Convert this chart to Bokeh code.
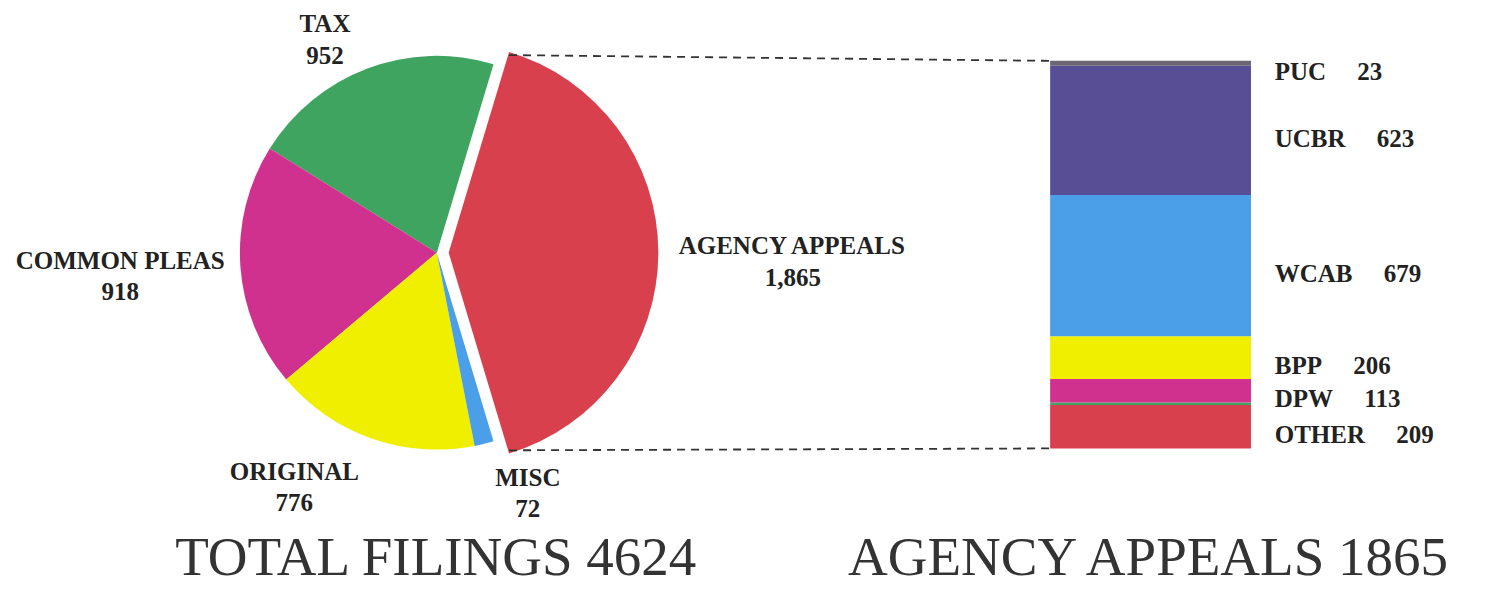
import math
from bokeh.plotting import figure
from bokeh.models import ColumnDataSource, Range1d
from bokeh.core.properties import value
from bokeh.embed import file_html
from bokeh.resources import INLINE

# ---------------- data ----------------
pie_labels = ["AGENCY APPEALS", "TAX", "COMMON PLEAS", "ORIGINAL", "MISC"]
pie_values = [1865, 952, 918, 776, 72]
pie_colors = ["#d8404e", "#3ea45f", "#d1318e", "#f1ef00", "#4b9ee8"]

bar_labels = ["OTHER", "", "DPW", "BPP", "WCAB", "UCBR", "PUC"]
bar_values = [209, 12, 113, 206, 679, 623, 23]
bar_colors = ["#d8404e", "#3ea45f", "#d1318e", "#f1ef00", "#4b9ee8", "#574e95", "#6b6672"]

title_left = "TOTAL FILINGS 4624"
title_right = "AGENCY APPEALS 1865"

# ---------------- layout (reference pixel coords, y up) ----------------
W, H = 1479, 593          # figure size that fits the window
RW, RH = 1495, 609        # coordinate space of the layout
def Y(ref_y):
    return RH - ref_y

pie_cx, pie_cy, pie_r = 441, Y(259), 199
explode_dx = [12, 0, 0, 0, 0]
radius_scale = [1.065, 1, 1, 1, 1]

label_pos = [(801, 252), (328, 24), (121, 267), (297, 484), (533, 490)]
value_gap = 32

bar_x0, bar_x1 = 1061, 1264
bar_bot, bar_top = Y(460), Y(62)
bar_label_x = 1288

FONT = "Liberation Serif"
TXT = "#222222"

p = figure(width=W, height=H, x_range=Range1d(0, RW), y_range=Range1d(0, RH),
           x_axis_type=None, y_axis_type=None, toolbar_location=None,
           output_backend="svg", min_border=0)
p.outline_line_color = None
p.grid.visible = False
p.background_fill_color = "white"
p.border_fill_color = "white"

# ---------------- pie ----------------
total = sum(pie_values)
starts, ends = [], []
a = -pie_values[0] / total * math.pi
for v in pie_values:
    starts.append(a)
    a += v / total * 2 * math.pi
    ends.append(a)

pie_src = ColumnDataSource(dict(
    x=[pie_cx + dx for dx in explode_dx],
    y=[pie_cy] * len(pie_values),
    r=[pie_r * s for s in radius_scale],
    start=starts, end=ends, color=pie_colors))
p.wedge(x="x", y="y", radius="r", start_angle="start", end_angle="end",
        fill_color="color", line_color=None, source=pie_src)

# labels
name_src = ColumnDataSource(dict(
    x=[lp[0] for lp in label_pos], y=[Y(lp[1]) for lp in label_pos], t=pie_labels))
val_src = ColumnDataSource(dict(
    x=[lp[0] for lp in label_pos], y=[Y(lp[1]) - value_gap for lp in label_pos],
    t=[f"{v:,}" for v in pie_values]))
for src in (name_src, val_src):
    p.text(x="x", y="y", text="t", source=src, text_font=value(FONT),
           text_font_size="25px", text_font_style="bold", text_align="center",
           text_baseline="middle", text_color=TXT)

# ---------------- stacked bar ----------------
bar_total = sum(bar_values)
k = bar_total / (bar_top - bar_bot)
p.extra_y_ranges = {"bar": Range1d((0 - bar_bot) * k, (RH - bar_bot) * k)}

bottoms, tops = [], []
c = 0
for v in bar_values:
    bottoms.append(c)
    c += v
    tops.append(c)
bar_src = ColumnDataSource(dict(x=[(bar_x0 + bar_x1) / 2] * len(bar_values),
                                bottom=bottoms, top=tops, color=bar_colors))
p.vbar(x="x", width=bar_x1 - bar_x0, bottom="bottom", top="top", fill_color="color",
       line_color=None, source=bar_src, y_range_name="bar")

lab_idx = [i for i, n in enumerate(bar_labels) if n]
bl_src = ColumnDataSource(dict(
    x=[bar_label_x] * len(lab_idx),
    y=[(bottoms[i] + tops[i]) / 2 for i in lab_idx],
    t=[f"{bar_labels[i]}\u00a0\u00a0\u00a0\u00a0 {bar_values[i]}" for i in lab_idx]))
p.text(x="x", y="y", text="t", source=bl_src, y_range_name="bar",
       text_font=value(FONT), text_font_size="25px", text_font_style="bold",
       text_align="left", text_baseline="middle", text_color=TXT, y_offset=8)

# ---------------- connector dashed lines ----------------
red_cx = pie_cx + explode_dx[0]
red_r = pie_r * radius_scale[0]
top_pt = (red_cx + red_r * math.cos(ends[0]), pie_cy + red_r * math.sin(ends[0]))
bot_pt = (red_cx + red_r * math.cos(starts[0]), pie_cy + red_r * math.sin(starts[0]))
p.segment(x0=[top_pt[0], bot_pt[0]], y0=[top_pt[1], bot_pt[1]],
          x1=[bar_x0, bar_x0], y1=[bar_top, bar_bot],
          line_color="#333333", line_width=1.8, line_dash="8 6")

# ---------------- titles ----------------
p.text(x=[pie_cx, (bar_x0 + bar_x1) / 2], y=[Y(571), Y(571)],
       text=[title_left, title_right], text_font=value(FONT), text_font_size="55px",
       text_align="center", text_baseline="middle", text_color="#333333")

open("out.html", "w").write(file_html(p, INLINE))
